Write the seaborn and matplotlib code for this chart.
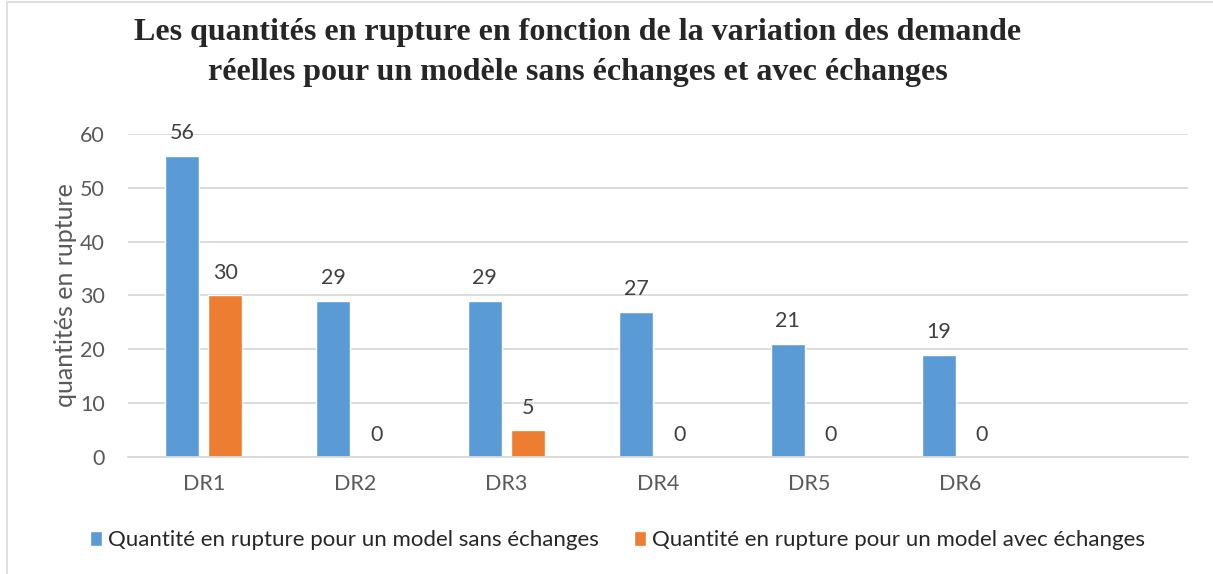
import numpy as np
import pandas as pd
import matplotlib
matplotlib.use("Agg")
import matplotlib.pyplot as plt
import seaborn as sns
from matplotlib.patches import Rectangle

# ── data
categories = ["DR1", "DR2", "DR3", "DR4", "DR5", "DR6"]
sans_echanges = [56, 29, 29, 27, 21, 19]
avec_echanges = [30, 0, 5, 0, 0, 0]
series_names = [
    "Quantité en rupture pour un model sans échanges",
    "Quantité en rupture pour un model avec échanges",
]
y_ticks = [0, 10, 20, 30, 40, 50, 60]

title = ("Les quantités en rupture en fonction de la variation des demande\n"
         "réelles pour un modèle sans échanges et avec échanges")
y_label = "quantités en rupture"

df = pd.DataFrame({
    "cat": categories * 2,
    "val": sans_echanges + avec_echanges,
    "serie": [series_names[0]] * len(categories) + [series_names[1]] * len(categories),
})

sns.set_style("white")
plt.rcParams["font.family"] = ["Lato", "DejaVu Sans"]

fig = plt.figure(figsize=(12.13, 5.74), dpi=100)
ax = fig.add_axes([0.1055, 0.2038, 0.979 - 0.1055, 0.7666 - 0.2038])

palette = ["#5B9BD5", "#ED7D31"]
sns.barplot(data=df, x="cat", y="val", hue="serie", palette=palette,
            width=0.57, gap=0.21, saturation=1, ax=ax, legend=True)

# value labels
for cont in ax.containers:
    ax.bar_label(cont, padding=9, fontsize=15.5, color="#404040")

ax.set_xlim(-0.5, 6.5)   # empty 7th slot like the original
ax.set_ylim(0, 60)
ax.set_yticks(y_ticks)
ax.yaxis.grid(True, color="#d9d9d9", lw=1.3)
ax.set_axisbelow(True)
for s in ["top", "right", "left"]:
    ax.spines[s].set_visible(False)
ax.spines["bottom"].set_color("#d9d9d9")
ax.spines["bottom"].set_linewidth(1.3)
ax.tick_params(axis="both", length=0, labelsize=15.5, labelcolor="#595959")
ax.tick_params(axis="y", pad=16.5)
ax.tick_params(axis="x", pad=12)
ax.set_xlabel("")
ax.set_ylabel(y_label, fontsize=18, color="#595959", labelpad=2)

# legend at the bottom
handles, labels = ax.get_legend_handles_labels()
ax.legend_.remove()
fig.legend(handles, labels, loc="center", bbox_to_anchor=(0.509, 0.059),
           ncol=2, frameon=False, fontsize=16, handlelength=0.55,
           handleheight=0.7, handletextpad=0.25, columnspacing=1.6)

fig.text(0.4765, 0.909, title, ha="center", va="center", fontsize=23,
         fontweight="bold", family="Liberation Serif", linespacing=1.5)

# thin frame like the chart border
fig.patches.append(Rectangle((7 / 1213, -0.01), 1.1, 1 - 2 / 574 + 0.01,
                             transform=fig.transFigure, fill=False,
                             edgecolor="#d9d9d9", lw=1.2))

fig.savefig("out.png", dpi=100, facecolor="white")
